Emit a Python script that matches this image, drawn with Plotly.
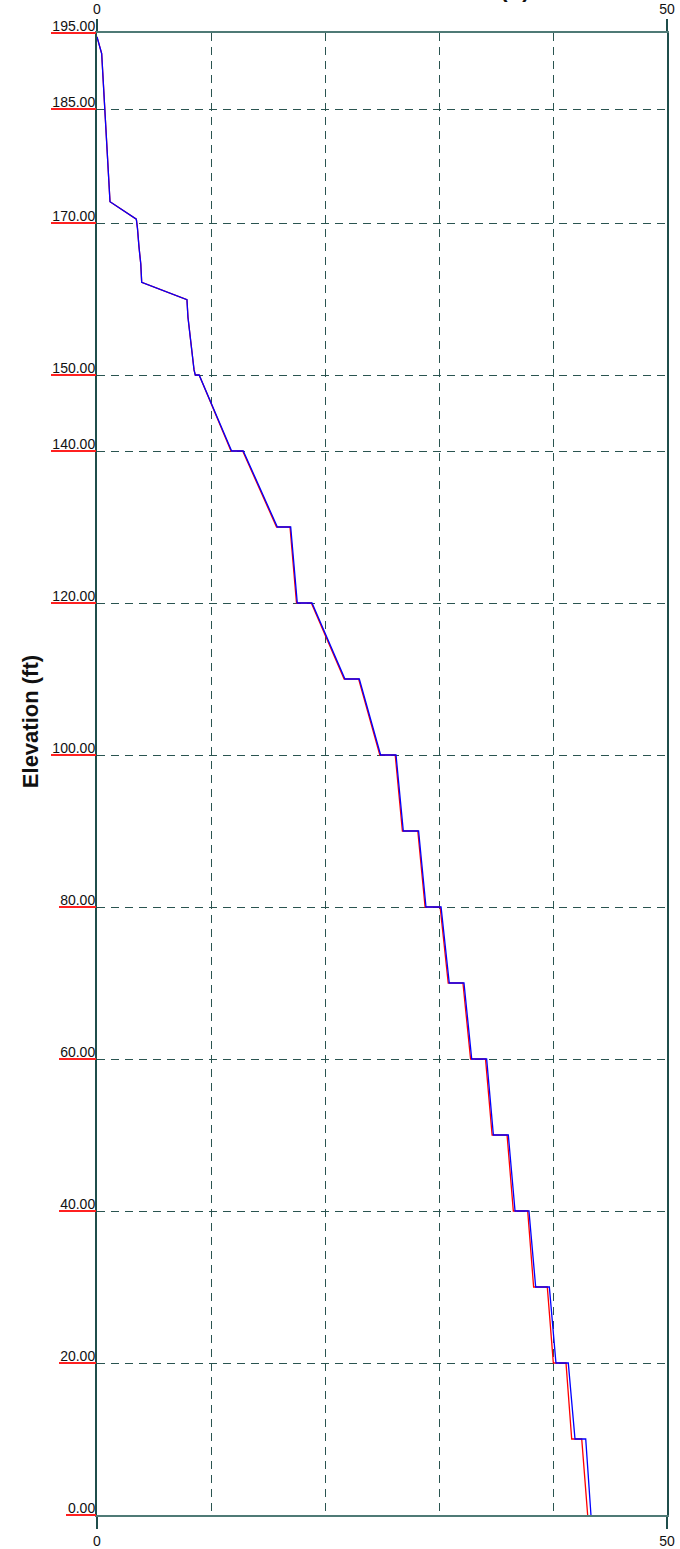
import plotly.graph_objects as go

# Profile values (x in units of the horizontal axis, elevation in ft)
elev_blue = [194.5, 192.3, 189.9, 187.7, 185.1, 182.2, 179.8, 177.4, 175.2, 172.8,
             170.5, 169.3, 166.9, 164.6, 162.2, 159.9, 157.6, 155.2, 152.9, 150.7,
             150.0, 150.0, 140.0, 140.0, 130.0, 130.0, 120.0, 120.0, 110.0, 110.0,
             100.0, 100.0, 90.0, 90.0, 80.0, 80.0, 70.0, 70.0, 60.0, 60.0,
             50.0, 50.0, 40.0, 40.0, 30.0, 30.0, 20.0, 20.0, 10.0, 10.0, 0.0]
x_blue = [0.00, 0.41, 0.50, 0.59, 0.70, 0.82, 0.90, 0.99, 1.08, 1.14,
          3.45, 3.55, 3.68, 3.84, 3.92, 7.89, 7.98, 8.16, 8.33, 8.51,
          8.62, 8.96, 11.81, 12.83, 15.82, 16.99, 17.57, 18.86, 21.75, 23.01,
          24.88, 26.23, 26.87, 28.21, 28.86, 30.18, 30.90, 32.19, 32.87, 34.18,
          34.77, 36.08, 36.67, 37.89, 38.48, 39.68, 40.26, 41.34, 41.93, 42.87, 43.33]

elev_red = elev_blue
x_red = [0.00, 0.41, 0.50, 0.59, 0.70, 0.82, 0.90, 0.99, 1.08, 1.14,
         3.45, 3.55, 3.68, 3.84, 3.92, 7.89, 7.98, 8.16, 8.33, 8.51,
         8.62, 8.96, 11.76, 12.78, 15.75, 16.93, 17.50, 18.80, 21.68, 22.95,
         24.81, 26.16, 26.79, 28.14, 28.78, 30.10, 30.81, 32.10, 32.77, 34.08,
         34.66, 35.97, 36.52, 37.78, 38.30, 39.50, 40.03, 41.14, 41.64, 42.52, 43.04]

y_ticks = [0, 20, 40, 60, 80, 100, 120, 140, 150, 170, 185, 195]
y_tick_labels = [f"{v:.2f}" for v in y_ticks]
x_ticks = [0, 50]
x_tick_labels = ["0", "50"]
x_grid = [10, 20, 30, 40]

AXIS_DARK = "#1f4e4b"
AXIS_LIGHT = "#4f7a76"
GRID = "#2a5450"
FONT = "Arial, Liberation Sans, sans-serif"

fig = go.Figure()

# Empty traces so the underline axes get their own (overlaid) subplots
for ax_name in ("y2", "y3", "y4"):
    fig.add_trace(go.Scatter(x=[], y=[], xaxis="x", yaxis=ax_name, mode="lines",
                             showlegend=False, hoverinfo="skip"))

fig.add_trace(go.Scatter(x=x_red, y=elev_red, mode="lines", xaxis="x", yaxis="y",
                         line=dict(color="#ff0000", width=1.3), showlegend=False,
                         hoverinfo="skip"))
fig.add_trace(go.Scatter(x=x_blue, y=elev_blue, mode="lines", xaxis="x2", yaxis="y",
                         line=dict(color="#0000ff", width=1.3), showlegend=False,
                         hoverinfo="skip"))

common_x = dict(
    range=[0, 50], tickmode="array", tickvals=x_ticks, ticktext=x_tick_labels,
    ticks="outside", ticklen=12, tickwidth=1.5, tickcolor=AXIS_DARK,
    showline=True, linecolor=AXIS_LIGHT, linewidth=1.5, zeroline=False,
    automargin=False,
    tickfont=dict(family=FONT, size=14, color="#111111"),
)


def underline_axis(vals, length):
    """Red underline strokes under the elevation labels, drawn as outside ticks."""
    return dict(overlaying="y", matches="y", side="left", anchor="x",
                tickmode="array", tickvals=vals, showticklabels=False,
                ticks="outside", ticklen=length, tickwidth=1.5, tickcolor="#ff2020",
                showgrid=False, zeroline=False, showline=False, automargin=False)


fig.update_layout(
    width=680, height=1549,
    margin=dict(l=97, r=13, t=33, b=34, autoexpand=False),
    paper_bgcolor="white", plot_bgcolor="white",
    xaxis=dict(**common_x, side="bottom", showgrid=False,
               minor=dict(tickmode="array", tickvals=x_grid, showgrid=True,
                          gridcolor=GRID, gridwidth=1, griddash="8px,6px", ticks="")),
    xaxis2=dict(**common_x, side="top", overlaying="x", matches="x", showgrid=False),
    yaxis=dict(range=[0, 195], tickmode="array", tickvals=y_ticks, ticktext=y_tick_labels,
               ticks="", ticklabelposition="outside top",
               ticklabelstandoff=-3, ticklabelshift=3,
               showgrid=True, gridcolor=GRID, gridwidth=1, griddash="8px,6px",
               showline=True, linecolor=AXIS_DARK, linewidth=2, mirror=True,
               zeroline=False, automargin=False,
               tickfont=dict(family=FONT, size=14, color="#111111")),
    yaxis2=underline_axis([v for v, t in zip(y_ticks, y_tick_labels) if len(t) == 6], 45),
    yaxis3=underline_axis([v for v, t in zip(y_ticks, y_tick_labels) if len(t) == 5], 37),
    yaxis4=underline_axis([v for v, t in zip(y_ticks, y_tick_labels) if len(t) == 4], 30),
    annotations=[
        dict(text="<b>Elevation (ft)</b>", xref="paper", yref="paper",
             x=-0.1175, y=0.535, xanchor="center", yanchor="middle",
             textangle=-90, showarrow=False,
             font=dict(family=FONT, size=22, color="#111111")),
        dict(text="<b>Pressure Head (ft)</b>", xref="paper", yref="paper",
             x=0.763, y=1.0196, xanchor="right", yanchor="bottom", showarrow=False,
             font=dict(family=FONT, size=22, color="#111111")),
    ],
)

fig.write_html("out.html")
